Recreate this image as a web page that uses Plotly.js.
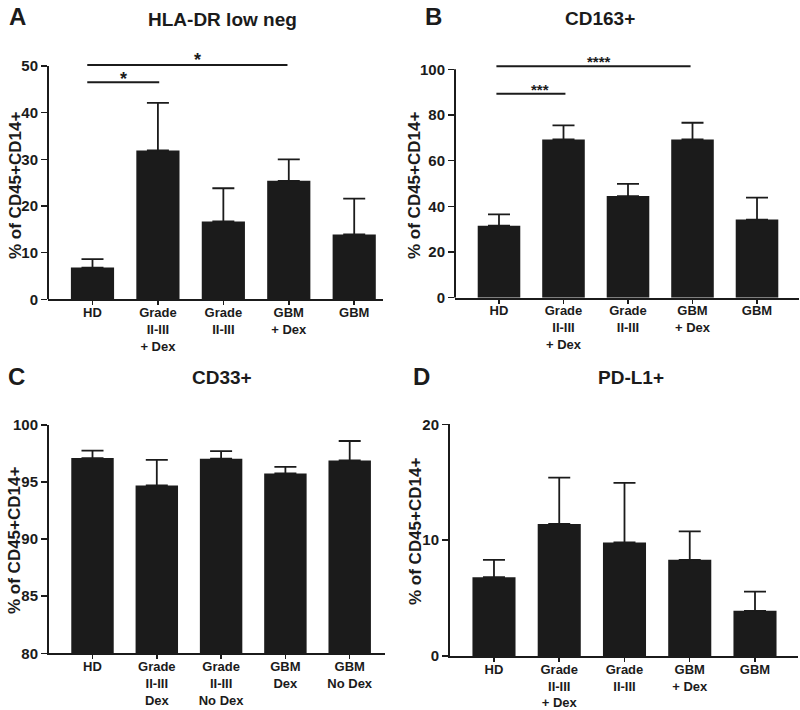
<!DOCTYPE html>
<html>
<head>
<meta charset="utf-8">
<script src="https://cdn.plot.ly/plotly-3.0.1.min.js"></script>
<style>html,body{margin:0;padding:0;background:#fff;}#chart{width:800px;height:710px;}</style>
</head>
<body>
<div id="chart"></div>
<script>
// ---- data ----
var catsA = ['HD', 'Grade<br>II-III<br>+ Dex', 'Grade<br>II-III', 'GBM<br>+ Dex', 'GBM'];
var meanA = [6.8, 31.9, 16.7, 25.4, 13.9];
var errA  = [1.8, 10.2, 7.1, 4.6, 7.7];

var catsB = ['HD', 'Grade<br>II-III<br>+ Dex', 'Grade<br>II-III', 'GBM<br>+ Dex', 'GBM'];
var meanB = [31.5, 69.3, 44.5, 69.3, 34.2];
var errB  = [5.0, 6.2, 5.3, 7.3, 9.6];

var catsC = ['HD', 'Grade<br>II-III<br>Dex', 'Grade<br>II-III<br>No Dex', 'GBM<br>Dex', 'GBM<br>No Dex'];
var meanC = [97.1, 94.7, 97.05, 95.75, 96.9];
var errC  = [0.65, 2.25, 0.67, 0.58, 1.7];

var catsD = ['HD', 'Grade<br>II-III<br>+ Dex', 'Grade<br>II-III', 'GBM<br>+ Dex', 'GBM'];
var meanD = [6.8, 11.4, 9.8, 8.3, 3.9];
var errD  = [1.5, 4.0, 5.15, 2.45, 1.65];

// significance brackets: [from index, to index, line y, label, label x, label y]
var sigA = [[-0.08, 1.02, 46.5, '*', 0.47, 47.2], [-0.08, 2.98, 50.2, '*', 1.61, 51.4]];
var sigB = [[-0.04, 1.03, 89.3, '***', 0.64, 91.2], [-0.04, 2.97, 101.4, '****', 1.55, 103.4]];

var panelTitles = ['HLA-DR low neg', 'CD163+', 'CD33+', 'PD-L1+'];
var panelLetters = ['A', 'B', 'C', 'D'];
var yTitle = '% of CD45+CD14+';

// ---- build ----
var FONT = 'Liberation Sans, Arial, Helvetica, sans-serif';
var INK = '#1b1b1b';

function barTrace(x, y, e, xa, ya) {
  return {
    type: 'bar', x: x, y: y, xaxis: xa, yaxis: ya,
    marker: {color: INK, line: {width: 0}},
    error_y: {type: 'data', symmetric: false, array: e, arrayminus: e.map(function(){return 0;}),
              color: INK, thickness: 1.8, width: 11},
    hoverinfo: 'none', showlegend: false
  };
}

var data = [
  barTrace(catsA, meanA, errA, 'x', 'y'),
  barTrace(catsB, meanB, errB, 'x2', 'y2'),
  barTrace(catsC, meanC, errC, 'x3', 'y3'),
  barTrace(catsD, meanD, errD, 'x4', 'y4')
];

function xAxis(domain, range, anchor) {
  return {
    domain: domain, range: range, anchor: anchor, type: 'category',
    showline: true, linecolor: INK, linewidth: 2,
    ticks: 'outside', ticklen: 4, tickwidth: 1.5, tickcolor: INK,
    ticklabelstandoff: -4,
    showgrid: false, zeroline: false, fixedrange: true,
    tickfont: {family: FONT, size: 13, color: INK, weight: 'bold'}
  };
}
function yAxis(domain, range, anchor, tickvals, showline) {
  return {
    domain: domain, range: range, anchor: anchor,
    showline: showline, linecolor: INK, linewidth: 2,
    ticks: 'outside', ticklen: 6, tickwidth: 1.5, tickcolor: INK,
    tickvals: tickvals, showgrid: false, zeroline: false, fixedrange: true,
    tickfont: {family: FONT, size: 15, color: INK, weight: 'bold'}
  };
}

var layout = {
  width: 800, height: 710, autosize: false,
  margin: {l: 0, r: 0, t: 0, b: 0},
  paper_bgcolor: '#fff', plot_bgcolor: 'rgba(0,0,0,0)',
  bargap: 0.34,
  xaxis:  xAxis([48/800, 383/800], [-0.68, 4.44], 'y'),
  yaxis:  yAxis([1 - 299.3/710, 1 - 56.7/710], [0, 52], 'x', [0, 10, 20, 30, 40, 50], false),
  xaxis2: xAxis([455/800, 799/800], [-0.682, 4.651], 'y2'),
  yaxis2: yAxis([1 - 297.7/710, 1 - 60.2/710], [0, 104], 'x2', [0, 20, 40, 60, 80, 100], false),
  xaxis3: xAxis([49/800, 385/800], [-0.6765, 4.549], 'y3'),
  yaxis3: yAxis([1 - 653.3/710, 1 - 425/710], [80, 100], 'x3', [80, 85, 90, 95, 100], true),
  xaxis4: xAxis([450/800, 798/800], [-0.674, 4.659], 'y4'),
  yaxis4: yAxis([1 - 656/710, 1 - 424.3/710], [0, 20], 'x4', [0, 10, 20], true),
  shapes: [],
  annotations: []
};

// y axis lines for A and B (stop at last tick)
layout.shapes.push({type: 'line', xref: 'x domain', yref: 'y', x0: 0, x1: 0, y0: 0, y1: 50,
                    line: {color: INK, width: 2}});
layout.shapes.push({type: 'line', xref: 'x2 domain', yref: 'y2', x0: 0, x1: 0, y0: 0, y1: 100,
                    line: {color: INK, width: 2}});

function addSig(sig, xa, ya, size) {
  sig.forEach(function(s) {
    layout.shapes.push({type: 'line', xref: xa, yref: ya, x0: s[0], x1: s[1], y0: s[2], y1: s[2],
                        line: {color: INK, width: 2}});
    layout.annotations.push({xref: xa, yref: ya, x: s[4], y: s[5], text: s[3], showarrow: false,
                             yanchor: 'middle', xanchor: 'center',
                             font: {family: FONT, size: size, color: INK, weight: 'bold'}});
  });
}
addSig(sigA, 'x', 'y', 18);
addSig(sigB, 'x2', 'y2', 15);

// titles and letters
var titlePos = [[222, 20], [600, 19], [222, 378], [631, 378]];
var letterPos = [[17, 17], [433, 17], [16, 377], [421, 377]];
var yTitlePos = [[15, 186], [414, 185], [14, 541], [415, 532]];
for (var i = 0; i < 4; i++) {
  layout.annotations.push({xref: 'paper', yref: 'paper', x: titlePos[i][0]/800, y: 1 - titlePos[i][1]/710,
    text: panelTitles[i], showarrow: false, xanchor: 'center', yanchor: 'middle',
    font: {family: FONT, size: 19, color: INK, weight: 'bold'}});
  layout.annotations.push({xref: 'paper', yref: 'paper', x: letterPos[i][0]/800, y: 1 - letterPos[i][1]/710,
    text: panelLetters[i], showarrow: false, xanchor: 'center', yanchor: 'middle',
    font: {family: FONT, size: 24, color: INK, weight: 'bold'}});
  layout.annotations.push({xref: 'paper', yref: 'paper', x: yTitlePos[i][0]/800, y: 1 - yTitlePos[i][1]/710,
    text: yTitle, showarrow: false, xanchor: 'center', yanchor: 'middle', textangle: -90,
    font: {family: FONT, size: 17, color: INK, weight: 'bold'}});
}

Plotly.newPlot('chart', data, layout, {staticPlot: true, displayModeBar: false});
</script>
</body>
</html>
